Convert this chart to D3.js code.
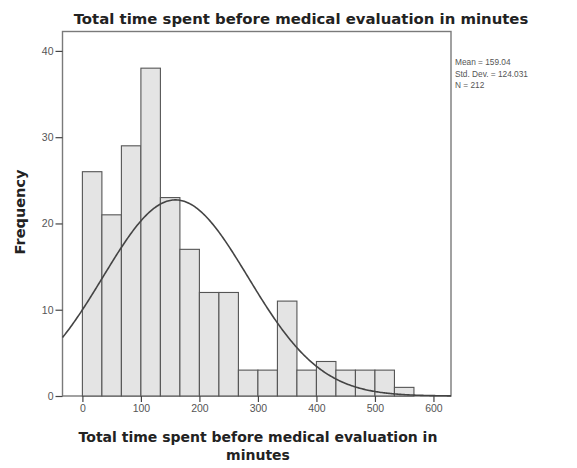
<!DOCTYPE html>
<html><head><meta charset="utf-8">
<script src="https://cdn.jsdelivr.net/npm/d3@7"></script>
<style>body{margin:0;background:#fff}</style>
</head><body>
<svg id="c" width="577" height="468"></svg>
<script>
const binStarts = [0,33.333,66.667,100,133.333,166.667,200,233.333,266.667,300,333.333,366.667,400,433.333,466.667,500,533.333];
const binWidth = 33.333;
const counts = [26,21,29,38,23,17,12,12,3,3,11,3,4,3,3,3,1];
const xTicks = [0,100,200,300,400,500,600];
const yTicks = [0,10,20,30,40];
const stats = ["Mean = 159.04","Std. Dev. = 124.031","N = 212"];
const mean = 159.04, sd = 124.031, n = 212;

const svg = d3.select("#c");
const L=62.5, R=451, T=31.5, B=396;
const x = d3.scaleLinear().domain([-34,630]).range([L,R]);
const y = d3.scaleLinear().domain([0,42.25]).range([B,T]);
const boldFont = "DejaVu Sans, Verdana, sans-serif";
const plainFont = "Liberation Sans, Arial, sans-serif";

function fit(sel, target){
  const w = sel.node().getComputedTextLength();
  const s = parseFloat(sel.attr("font-size"));
  sel.attr("font-size", s*target/w);
}

const title = svg.append("text").attr("x",301).attr("y",24).attr("text-anchor","middle")
  .attr("font-family",boldFont).attr("font-weight","bold")
  .attr("font-size",14).attr("fill","#222").text("Total time spent before medical evaluation in minutes");
fit(title, 455);

svg.append("rect").attr("x",L).attr("y",T).attr("width",R-L).attr("height",B-T)
  .attr("fill","#fff").attr("stroke","#7a7a7a").attr("stroke-width",1.4);

svg.append("g").selectAll("rect").data(counts).join("rect")
  .attr("x",(d,i)=>x(binStarts[i])).attr("width",(d,i)=>x(binStarts[i]+binWidth)-x(binStarts[i]))
  .attr("y",d=>y(d)).attr("height",d=>y(0)-y(d))
  .attr("fill","#e4e4e4").attr("stroke","#555").attr("stroke-width",1.1);

const pts = d3.range(-34,630.5,2).map(v=>[v, n*binWidth*Math.exp(-0.5*((v-mean)/sd)**2)/(sd*Math.sqrt(2*Math.PI))]);
svg.append("path").datum(pts).attr("fill","none").attr("stroke","#444").attr("stroke-width",1.6)
  .attr("d",d3.line().x(d=>x(d[0])).y(d=>y(d[1])));

const xa = svg.append("g").attr("transform",`translate(0,${B})`)
  .call(d3.axisBottom(x).tickValues(xTicks).tickSize(6).tickPadding(3).tickFormat(d3.format("d")));
xa.select(".domain").remove();
const ya = svg.append("g").attr("transform",`translate(${L},0)`)
  .call(d3.axisLeft(y).tickValues(yTicks).tickSize(7).tickPadding(2).tickFormat(d3.format("d")));
ya.select(".domain").remove();
svg.selectAll(".tick line").attr("stroke","#444").attr("stroke-width",1.2);
svg.selectAll(".tick text").attr("fill","#555").attr("font-family",plainFont).attr("font-size",10.5);

const yl = svg.append("text").attr("transform","translate(25,212) rotate(-90)").attr("text-anchor","middle")
  .attr("font-family",boldFont).attr("font-weight","bold")
  .attr("font-size",12).attr("fill","#222").text("Frequency");
fit(yl, 85);

const xl1 = svg.append("text").attr("text-anchor","middle").attr("x",258).attr("y",442)
  .attr("font-family",boldFont).attr("font-weight","bold")
  .attr("font-size",12).attr("fill","#222").text("Total time spent before medical evaluation in");
fit(xl1, 359);
svg.append("text").attr("text-anchor","middle").attr("x",258).attr("y",460)
  .attr("font-family",boldFont).attr("font-weight","bold")
  .attr("font-size",xl1.attr("font-size")).attr("fill","#222").text("minutes");

svg.append("g").selectAll("text").data(stats).join("text")
  .attr("x",455).attr("y",(d,i)=>65+i*11.5)
  .attr("font-family",plainFont).attr("font-size",8.3).attr("fill","#555").text(d=>d);
</script>
</body></html>
